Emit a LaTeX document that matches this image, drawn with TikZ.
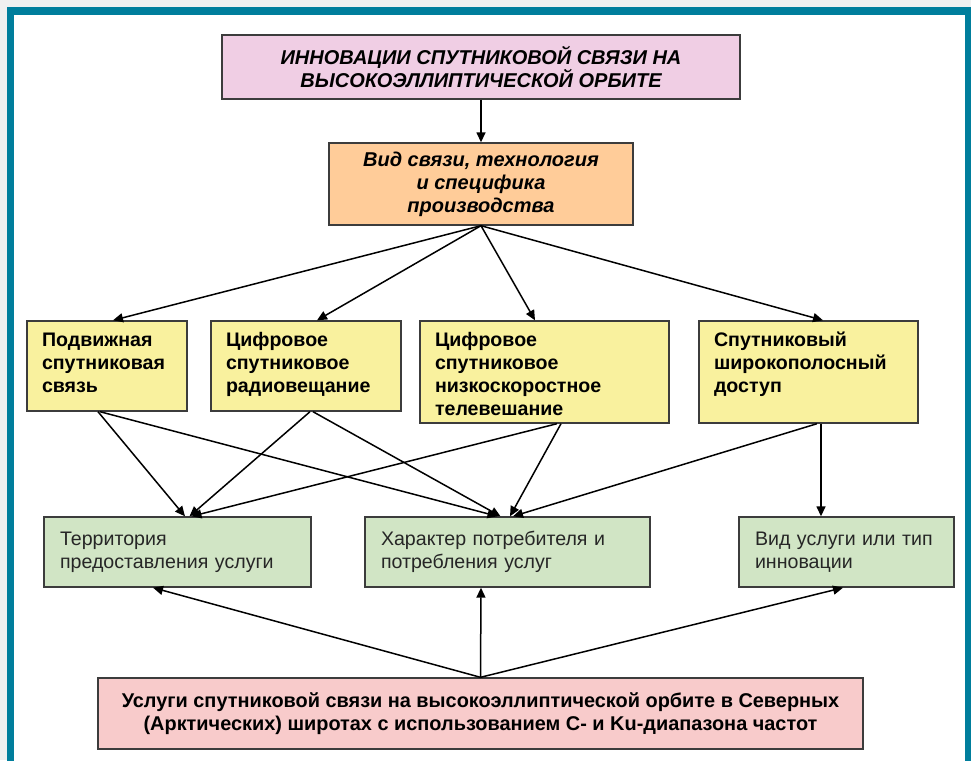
\documentclass[tikz,border=0pt]{standalone}
\usepackage{fontspec}
\setmainfont{Liberation Sans}
\usetikzlibrary{arrows.meta}

\definecolor{frameblue}{RGB}{0,126,156}
\definecolor{titlepink}{RGB}{240,206,228}
\definecolor{vidorange}{RGB}{255,204,153}
\definecolor{vidyellow}{RGB}{249,241,158}
\definecolor{hargreen}{RGB}{209,229,197}
\definecolor{uslpink}{RGB}{248,203,203}
\definecolor{edgegray}{RGB}{60,60,60}

\tikzset{
  box/.style={draw=edgegray, line width=1.4pt, inner sep=0pt},
  headbox/.style={box, align=center, font=\fontsize{20}{23}\selectfont\bfseries\itshape},
  ybox/.style={box, fill=vidyellow, align=left, inner xsep=15pt, text height=25pt,
    font=\fontsize{19.6}{23}\selectfont\bfseries},
  gbox/.style={box, fill=hargreen, align=left, inner xsep=16pt, minimum height=70pt,
    text=black!85, font=\fontsize{19.6}{23}\selectfont},
}

\begin{document}
\begin{tikzpicture}[x=1pt, y=-1pt, line width=1.5pt, >={Triangle[length=10pt,width=9pt]}]
        \useasboundingbox (0,0) rectangle (971,760);
        \clip (0,0) rectangle (971,760);
        \fill[gray!12] (0,0) rectangle (971,760);
        \draw[frameblue, line width=7.5pt, fill=white] (10.5,11) rectangle (968.5,800);

        \node[headbox, fill=titlepink, minimum width=518pt, minimum height=64pt](innov) at (481, 67)
            {ИННОВАЦИИ СПУТНИКОВОЙ СВЯЗИ НА\\ВЫСОКОЭЛЛИПТИЧЕСКОЙ ОРБИТЕ};
        \node[headbox, fill=vidorange, minimum width=304pt, minimum height=82pt](vid) at (481, 184)
            {Вид связи, технология\\и специфика\\производства};

        \node[ybox, text width=130pt, text depth=65pt](podv) at (107, 366) {Подвижная\\спутниковая\\связь};
        \node[ybox, text width=160pt, text depth=65pt](radio) at (306, 366) {Цифровое\\спутниковое\\радиовещание};
        \node[ybox, text width=219pt, text depth=77pt](tv) at (544.5, 372) {Цифровое\\спутниковое\\низкоскоростное\\телевешание};
        \node[ybox, text width=189pt, text depth=77pt](shir) at (808.5, 372) {Спутниковый\\широкополосный\\доступ};

        \node[gbox, text width=235pt](terr) at (177.5, 552) {Территория\\предоставления услуги};
        \node[gbox, text width=253pt](harakt) at (507.5, 552) {Характер потребителя и\\потребления услуг};
        \node[gbox, text width=183pt](usl) at (846.5, 552) {Вид услуги или тип\\инновации};

        \node[headbox, font=\fontsize{19.9}{23}\selectfont\bfseries, fill=uslpink,
            minimum width=765pt, minimum height=71pt](osn) at (480.5, 713.5)
            {Услуги спутниковой связи на высокоэллиптической орбите в Северных\\(Арктических) широтах с использованием С- и Ku-диапазона частот};

        \draw[->] (innov) -- (vid);
        \draw[->] (vid.south) -- ([xshift=6pt]podv.north);
        \draw[->] (vid.south) -- ([xshift=11pt]radio.north);
        \draw[->] (vid.south) -- ([xshift=-9.5pt]tv.north);
        \draw[->] (vid.south) -- ([xshift=14.5pt]shir.north);

        \draw[->] ([xshift=-9pt]podv.south) -- ([xshift=7.5pt]terr.north);
        \draw[->] ([xshift=-7pt]podv.south) -- ([xshift=-10pt]harakt.north);
        \draw[->] ([xshift=4pt]radio.south) -- ([xshift=12pt]terr.north);
        \draw[->] ([xshift=7pt]radio.south) -- ([xshift=-7pt]harakt.north);
        \draw[->] ([xshift=12.5pt]tv.south) -- ([xshift=14pt]terr.north);
        \draw[->] ([xshift=16.5pt]tv.south) -- ([xshift=2.5pt]harakt.north);
        \draw[->] ([xshift=8.5pt]shir.south) -- ([xshift=5.5pt]harakt.north);
        \draw[->] ([xshift=12.5pt]shir.south) -- ([xshift=-25.5pt]usl.north);

        \draw[->] (osn.north) -- ([xshift=-24.5pt]terr.south);
        \draw[->] (osn.north) -- ([xshift=-26.5pt]harakt.south);
        \draw[->] (osn.north) -- ([xshift=-3.5pt]usl.south);
    \end{tikzpicture}
\end{document}
